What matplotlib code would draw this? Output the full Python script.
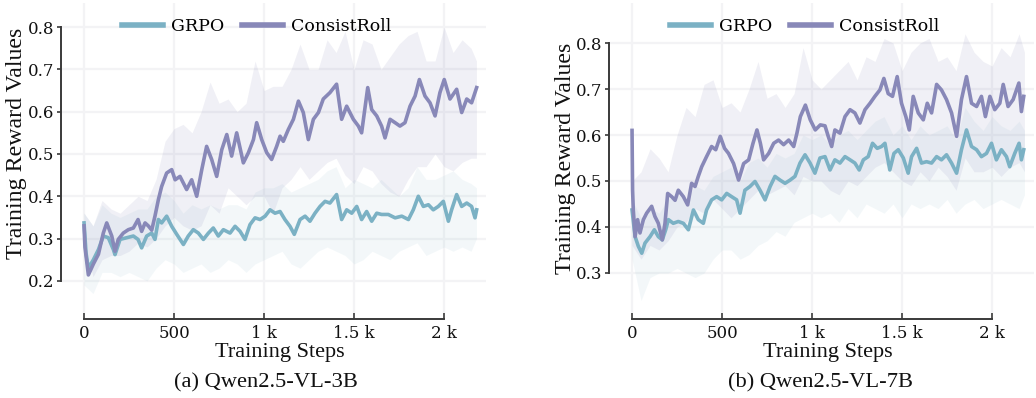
import matplotlib
matplotlib.use('Agg')
import matplotlib.pyplot as plt

# ---------------- data ----------------
x_ticks = [0, 500, 1000, 1500, 2000]
x_tick_labels = ['0', '500', '1 k', '1.5 k', '2 k']
yticks_a = [0.2, 0.3, 0.4, 0.5, 0.6, 0.7, 0.8]
yticks_b = [0.3, 0.4, 0.5, 0.6, 0.7, 0.8]
series_names = ['GRPO', 'ConsistRoll']
captions = ['(a) Qwen2.5-VL-3B', '(b) Qwen2.5-VL-7B']

# Panel (a) ConsistRoll mean
a_cr_steps = [0, 5, 24, 52, 80, 107, 126, 154, 172, 190, 218, 246, 274, 300, 320, 339, 357, 376, 394, 413,
              431, 459, 487, 506, 533, 570, 598, 626, 654, 681, 709, 737, 765, 793, 820, 848, 885, 913, 941, 959,
              987, 1015, 1042, 1070, 1089, 1107, 1135, 1163, 1191, 1218, 1246, 1274, 1302, 1329, 1366, 1403, 1431,
              1459, 1496, 1524, 1542, 1576, 1598, 1626, 1653, 1672, 1700, 1728, 1755, 1783, 1811, 1839, 1863, 1894,
              1922, 1950, 1977, 2001, 2033, 2070, 2098, 2126, 2153, 2181]
a_cr_vals = [0.33, 0.28, 0.214, 0.24, 0.263, 0.313, 0.337, 0.306, 0.27, 0.298, 0.313, 0.321, 0.325, 0.345, 0.317,
             0.337, 0.33, 0.32, 0.353, 0.392, 0.423, 0.455, 0.463, 0.439, 0.447, 0.416, 0.439, 0.40, 0.463, 0.518,
             0.487, 0.447, 0.51, 0.546, 0.495, 0.55, 0.479, 0.503, 0.534, 0.574, 0.534, 0.503, 0.487, 0.518, 0.542,
             0.53, 0.558, 0.582, 0.625, 0.598, 0.534, 0.582, 0.598, 0.63, 0.645, 0.665, 0.582, 0.613, 0.582, 0.566,
             0.55, 0.657, 0.605, 0.59, 0.566, 0.538, 0.582, 0.574, 0.566, 0.574, 0.613, 0.637, 0.676, 0.637, 0.621,
             0.59, 0.645, 0.676, 0.63, 0.653, 0.598, 0.63, 0.621, 0.657]

# Panel (a) GRPO mean
a_gr_steps = [0, 11, 24, 52, 80, 107, 135, 163, 172, 200, 237, 274, 300, 320, 348, 376, 394, 413, 431, 459, 487,
              515, 552, 579, 607, 635, 663, 691, 718, 746, 774, 811, 839, 867, 894, 922, 950, 978, 1006, 1033, 1061,
              1089, 1116, 1144, 1168, 1200, 1228, 1255, 1283, 1311, 1339, 1366, 1403, 1431, 1459, 1487, 1515, 1542,
              1570, 1598, 1626, 1653, 1690, 1728, 1765, 1802, 1829, 1857, 1885, 1913, 1940, 1968, 1996, 2024, 2042,
              2070, 2098, 2126, 2153, 2172, 2181]
a_gr_vals = [0.337, 0.266, 0.23, 0.25, 0.274, 0.306, 0.302, 0.274, 0.262, 0.298, 0.302, 0.306, 0.298, 0.278, 0.306,
             0.313, 0.298, 0.345, 0.337, 0.353, 0.329, 0.31, 0.286, 0.306, 0.321, 0.313, 0.298, 0.313, 0.325, 0.306,
             0.321, 0.313, 0.329, 0.317, 0.298, 0.333, 0.349, 0.345, 0.353, 0.368, 0.36, 0.364, 0.345, 0.329, 0.31,
             0.345, 0.353, 0.341, 0.36, 0.376, 0.388, 0.384, 0.404, 0.345, 0.368, 0.36, 0.376, 0.345, 0.364, 0.341,
             0.36, 0.357, 0.357, 0.349, 0.353, 0.345, 0.368, 0.40, 0.376, 0.38, 0.368, 0.376, 0.388, 0.341, 0.368,
             0.404, 0.376, 0.384, 0.376, 0.349, 0.368]

# Panel (b) ConsistRoll mean
b_cr_steps = [0, 3, 7, 17, 31, 44, 63, 81, 109, 127, 146, 168, 183, 198, 220, 239, 257, 285, 309, 331, 350, 368,
              387, 414, 442, 465, 490, 514, 536, 564, 592, 620, 648, 672, 694, 713, 731, 759, 787, 814, 842, 870,
              898, 916, 935, 963, 990, 1018, 1046, 1072, 1090, 1109, 1127, 1155, 1183, 1211, 1238, 1266, 1294, 1322,
              1349, 1377, 1399, 1423, 1447, 1473, 1497, 1521, 1540, 1562, 1590, 1618, 1640, 1664, 1692, 1719, 1747,
              1775, 1803, 1830, 1858, 1886, 1914, 1941, 1963, 1988, 2015, 2043, 2062, 2089, 2117, 2149, 2163, 2176]
b_cr_vals = [0.61, 0.48, 0.437, 0.379, 0.416, 0.387, 0.416, 0.43, 0.445, 0.423, 0.408, 0.372, 0.408, 0.473, 0.466,
             0.458, 0.48, 0.466, 0.448, 0.495, 0.488, 0.51, 0.531, 0.553, 0.575, 0.568, 0.597, 0.571, 0.56, 0.538,
             0.502, 0.538, 0.546, 0.582, 0.611, 0.582, 0.546, 0.56, 0.582, 0.589, 0.579, 0.589, 0.575, 0.604, 0.64,
             0.665, 0.633, 0.611, 0.622, 0.62, 0.597, 0.575, 0.611, 0.604, 0.64, 0.655, 0.648, 0.626, 0.655, 0.669,
             0.684, 0.698, 0.723, 0.69, 0.684, 0.727, 0.669, 0.64, 0.611, 0.684, 0.648, 0.633, 0.669, 0.648, 0.71,
             0.698, 0.677, 0.648, 0.597, 0.677, 0.727, 0.669, 0.662, 0.684, 0.64, 0.684, 0.655, 0.669, 0.71, 0.662,
             0.677, 0.713, 0.651, 0.684]

# Panel (b) GRPO mean
b_gr_steps = [0, 17, 35, 54, 72, 100, 124, 146, 168, 187, 202, 229, 257, 285, 313, 341, 368, 396, 414, 442, 470,
              498, 526, 553, 581, 600, 627, 655, 683, 711, 739, 767, 794, 822, 850, 878, 905, 933, 961, 989, 1016,
              1044, 1072, 1100, 1127, 1155, 1183, 1211, 1238, 1262, 1285, 1312, 1336, 1362, 1386, 1405, 1432, 1455,
              1479, 1507, 1534, 1553, 1581, 1608, 1636, 1664, 1692, 1719, 1747, 1775, 1803, 1830, 1858, 1886, 1914,
              1941, 1969, 1997, 2024, 2052, 2080, 2098, 2126, 2150, 2163, 2176]
b_gr_vals = [0.437, 0.379, 0.358, 0.343, 0.365, 0.379, 0.394, 0.379, 0.372, 0.394, 0.416, 0.408, 0.412, 0.408,
             0.394, 0.437, 0.416, 0.408, 0.437, 0.459, 0.466, 0.459, 0.473, 0.466, 0.459, 0.43, 0.48, 0.488, 0.499,
             0.48, 0.459, 0.488, 0.51, 0.502, 0.495, 0.502, 0.51, 0.539, 0.557, 0.539, 0.517, 0.55, 0.553, 0.524,
             0.546, 0.539, 0.553, 0.546, 0.539, 0.524, 0.546, 0.553, 0.582, 0.571, 0.575, 0.582, 0.524, 0.56, 0.568,
             0.55, 0.517, 0.553, 0.571, 0.539, 0.542, 0.539, 0.553, 0.546, 0.557, 0.539, 0.517, 0.568, 0.611, 0.575,
             0.568, 0.553, 0.56, 0.582, 0.546, 0.568, 0.553, 0.531, 0.56, 0.582, 0.546, 0.568]

# shaded spread (upper / lower edges), sampled every 50 steps + last step
band_steps = [0, 50, 100, 150, 200, 250, 300, 350, 400, 450, 500, 550, 600, 650, 700, 750, 800, 850, 900, 950,
              1000, 1050, 1100, 1150, 1200, 1250, 1300, 1350, 1400, 1450, 1500, 1550, 1600, 1650, 1700, 1750,
              1800, 1850, 1900, 1950, 2000, 2050, 2100, 2150, 2180]
a_cr_upper = [0.36, 0.33, 0.39, 0.37, 0.36, 0.38, 0.40, 0.39, 0.44, 0.53, 0.56, 0.57, 0.55, 0.60, 0.67, 0.62, 0.63,
              0.60, 0.62, 0.72, 0.65, 0.66, 0.66, 0.70, 0.76, 0.70, 0.70, 0.77, 0.74, 0.79, 0.70, 0.77, 0.76, 0.70,
              0.73, 0.76, 0.78, 0.79, 0.72, 0.72, 0.80, 0.74, 0.77, 0.75, 0.72]
a_cr_lower = [0.29, 0.21, 0.25, 0.26, 0.26, 0.27, 0.29, 0.28, 0.30, 0.33, 0.35, 0.33, 0.32, 0.33, 0.38, 0.36, 0.42,
              0.40, 0.38, 0.40, 0.40, 0.36, 0.42, 0.44, 0.47, 0.44, 0.46, 0.48, 0.49, 0.45, 0.43, 0.47, 0.46, 0.43,
              0.41, 0.40, 0.44, 0.47, 0.47, 0.50, 0.47, 0.46, 0.48, 0.49, 0.49]
a_gr_upper = [0.36, 0.33, 0.38, 0.36, 0.35, 0.36, 0.37, 0.37, 0.40, 0.41, 0.39, 0.36, 0.38, 0.37, 0.38, 0.37, 0.38,
              0.38, 0.37, 0.41, 0.42, 0.42, 0.43, 0.41, 0.42, 0.43, 0.44, 0.46, 0.47, 0.42, 0.44, 0.43, 0.42, 0.44,
              0.42, 0.40, 0.42, 0.47, 0.44, 0.44, 0.45, 0.46, 0.44, 0.43, 0.42]
a_gr_lower = [0.19, 0.17, 0.22, 0.22, 0.21, 0.22, 0.21, 0.20, 0.23, 0.25, 0.24, 0.22, 0.23, 0.24, 0.22, 0.23, 0.25,
              0.24, 0.22, 0.24, 0.25, 0.26, 0.27, 0.24, 0.23, 0.25, 0.27, 0.28, 0.27, 0.26, 0.24, 0.25, 0.27, 0.26,
              0.25, 0.27, 0.28, 0.29, 0.26, 0.27, 0.28, 0.27, 0.28, 0.27, 0.30]
b_cr_upper = [0.50, 0.52, 0.57, 0.55, 0.52, 0.60, 0.66, 0.64, 0.71, 0.72, 0.66, 0.67, 0.65, 0.70, 0.76, 0.68, 0.69,
              0.66, 0.69, 0.79, 0.72, 0.70, 0.72, 0.74, 0.76, 0.72, 0.77, 0.76, 0.81, 0.80, 0.74, 0.78, 0.80, 0.81,
              0.76, 0.77, 0.74, 0.82, 0.78, 0.76, 0.75, 0.79, 0.77, 0.82, 0.78]
b_cr_lower = [0.36, 0.33, 0.36, 0.35, 0.37, 0.40, 0.41, 0.44, 0.43, 0.46, 0.44, 0.42, 0.44, 0.46, 0.48, 0.47, 0.48,
              0.49, 0.47, 0.51, 0.50, 0.50, 0.48, 0.47, 0.50, 0.49, 0.51, 0.53, 0.54, 0.52, 0.50, 0.49, 0.52, 0.50,
              0.53, 0.51, 0.48, 0.55, 0.52, 0.52, 0.53, 0.51, 0.53, 0.54, 0.52]
b_gr_upper = [0.46, 0.42, 0.44, 0.43, 0.46, 0.47, 0.46, 0.49, 0.48, 0.51, 0.52, 0.53, 0.50, 0.54, 0.55, 0.53, 0.56,
              0.55, 0.56, 0.60, 0.59, 0.60, 0.58, 0.60, 0.61, 0.59, 0.61, 0.63, 0.64, 0.60, 0.62, 0.59, 0.62, 0.60,
              0.61, 0.62, 0.59, 0.66, 0.63, 0.61, 0.64, 0.62, 0.61, 0.63, 0.61]
b_gr_lower = [0.33, 0.24, 0.29, 0.30, 0.30, 0.31, 0.30, 0.29, 0.30, 0.33, 0.35, 0.35, 0.33, 0.34, 0.36, 0.37, 0.39,
              0.38, 0.41, 0.42, 0.43, 0.42, 0.43, 0.41, 0.44, 0.42, 0.45, 0.44, 0.43, 0.45, 0.42, 0.45, 0.44, 0.45,
              0.44, 0.46, 0.43, 0.45, 0.46, 0.44, 0.45, 0.46, 0.45, 0.44, 0.47]

# ---------------- styling ----------------
C_GR = '#7bb1c4'
C_CR = '#8888b8'
GRID = '#f3f3f5'
SPINE = '#3a3a3a'
W, H = 1036, 398

fig = plt.figure(figsize=(W / 100, H / 100), dpi=100)
axA = fig.add_axes([61 / W, 1 - 313 / H, (486 - 61) / W, 310 / H])
axB = fig.add_axes([609 / W, 1 - 313 / H, (1034 - 609) / W, 310 / H])

panels = [
    (axA, (0.124, 0.857), yticks_a,
     (a_gr_steps, a_gr_vals, a_gr_upper, a_gr_lower),
     (a_cr_steps, a_cr_vals, a_cr_upper, a_cr_lower)),
    (axB, (0.213, 0.887), yticks_b,
     (b_gr_steps, b_gr_vals, b_gr_upper, b_gr_lower),
     (b_cr_steps, b_cr_vals, b_cr_upper, b_cr_lower)),
]

for ax, ylim, yt, gr, cr in panels:
    ax.set_xlim(-128, 2233)
    ax.set_ylim(*ylim)
    ax.set_axisbelow(True)
    ax.grid(True, color=GRID, lw=1.6)
    for s in ['top', 'right']:
        ax.spines[s].set_visible(False)
    ax.spines['left'].set_bounds(yt[0], yt[-1])
    ax.spines['bottom'].set_bounds(x_ticks[0], x_ticks[-1])
    ax.spines['bottom'].set_position(('outward', 4.3))
    for s in ['left', 'bottom']:
        ax.spines[s].set_color(SPINE)
        ax.spines[s].set_linewidth(1.4)
    ax.set_xticks(x_ticks)
    ax.set_xticklabels(x_tick_labels)
    ax.set_yticks(yt)
    ax.set_yticklabels([f'{v:.1f}' for v in yt])
    ax.tick_params(axis='x', direction='in', length=4, width=1.2, color=SPINE, pad=4,
                   labelsize=12)
    ax.tick_params(axis='y', direction='out', length=3, width=1.2, color=SPINE, pad=2,
                   labelsize=12)
    for lab in ax.get_xticklabels() + ax.get_yticklabels():
        lab.set_fontfamily('DejaVu Serif')
        lab.set_color('#111111')

    # bands
    ax.fill_between(band_steps, gr[3], gr[2], color=C_GR, alpha=0.09, lw=0)
    ax.fill_between(band_steps, cr[3], cr[2], color=C_CR, alpha=0.12, lw=0)
    # means
    ax.plot(gr[0], gr[1], color=C_GR, lw=2.6, label=series_names[0])
    ax.plot(cr[0], cr[1], color=C_CR, lw=2.6, label=series_names[1])

    leg = ax.legend(loc='center', bbox_to_anchor=(0.46, 0.923), ncol=2, frameon=False,
                    prop={'family': 'DejaVu Serif', 'size': 12.5},
                    handlelength=2.4, handletextpad=0.45, columnspacing=1.0)
    for h in leg.get_lines():
        h.set_linewidth(4)

# labels (figure coordinates from pixel positions)
def ftxt(px, py, s, **kw):
    fig.text(px / W, 1 - py / H, s, ha='center', va='center', fontfamily='Liberation Serif',
             color='#111111', **kw)

ftxt(17, 143, 'Training Reward Values', rotation=90, fontsize=17.2)
ftxt(566, 158, 'Training Reward Values', rotation=90, fontsize=17.2)
ftxt(280, 352, 'Training Steps', fontsize=16)
ftxt(828, 352, 'Training Steps', fontsize=16)
ftxt(266, 383, captions[0], fontsize=16.2)
ftxt(820, 383, captions[1], fontsize=16.2)

fig.savefig('out.png', dpi=100)
